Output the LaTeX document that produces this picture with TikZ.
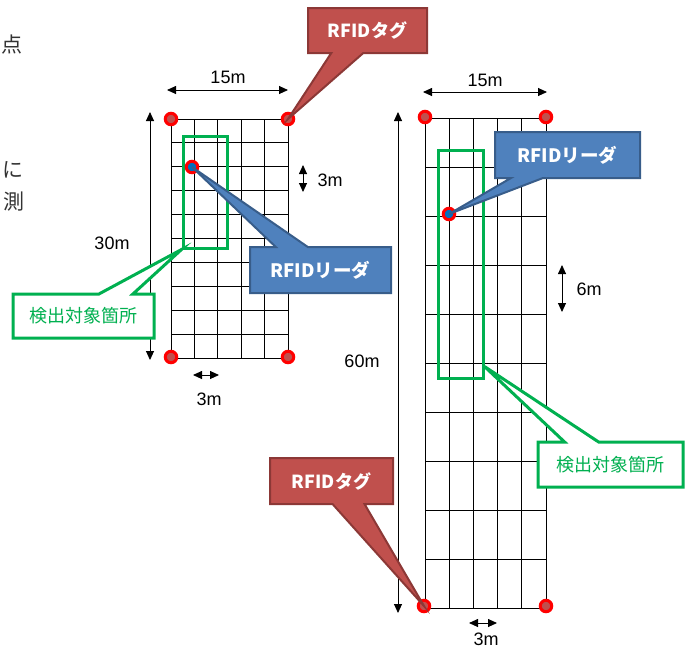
\documentclass[tikz,border=0pt]{standalone}
\usepackage{fontspec}
\setmainfont{Liberation Sans}
\newfontfamily\jpfont{Noto Sans CJK JP}
\usetikzlibrary{arrows.meta,shapes,positioning}
\definecolor{tagred}{HTML}{C0504D}
\definecolor{tagedge}{HTML}{8C3836}
\definecolor{readblue}{HTML}{4F81BD}
\definecolor{readedge}{HTML}{385D8A}
\definecolor{dotblue}{HTML}{0070C0}
\definecolor{areagreen}{HTML}{00B050}
\tikzset{
  gridline/.style={line width=1pt},
  tagdot/.style={circle,draw=red,fill=tagred,line width=3pt,minimum size=11.5pt,inner sep=0pt},
  readerdot/.style={tagdot,fill=dotblue},
  areabox/.style={rectangle,draw=areagreen,line width=3pt,inner sep=0pt},
  dimline/.style={line width=0.9pt,{Triangle[length=9pt,width=8pt]}-{Triangle[length=9pt,width=8pt]}},
  dimlabel/.style={inner sep=0pt,font=\fontsize{18}{18}\selectfont},
  margintext/.style={inner sep=0pt,text=black!80,font=\jpfont\fontsize{21}{21}\selectfont},
  note/.style={rectangle callout,inner sep=0pt,callout pointer width=32pt},
  tagnote/.style={note,draw=tagedge,fill=tagred,line width=2pt,text=white,font=\jpfont\bfseries\fontsize{18}{18}\selectfont},
  readnote/.style={note,draw=readedge,fill=readblue,line width=2pt,text=white,font=\jpfont\bfseries\fontsize{18.5}{18.5}\selectfont},
  areanote/.style={note,draw=areagreen,fill=white,line width=3pt,text=areagreen,font=\jpfont\fontsize{18}{18}\selectfont,callout pointer width=34pt}
}
\begin{document}
\begin{tikzpicture}[x=1pt,y=-1pt]
\useasboundingbox (0,0) rectangle (687,649);

% cut-off body text
\node[margintext] (txt1) at (12,45) {点};
\node[margintext] (txt2) at (13,170) {に};
\node[margintext] (txt3) at (14,202) {測};

% grid 15m x 30m
\foreach \i in {0,...,5} \draw[gridline] (171+\i*23.4,119) -- ++(0,239);
\foreach \j in {0,...,10} \draw[gridline] (171,119+\j*23.9) -- ++(117,0);

% grid 15m x 60m
\foreach \i in {0,...,5} \draw[gridline] (425+\i*24.2,118) -- ++(0,490);
\foreach \j in {0,...,10} \draw[gridline] (425,118+\j*49) -- ++(121,0);

% detection areas
\node[areabox,minimum width=44pt,minimum height=112pt] (areaL) at (205,192) {};
\node[areabox,minimum width=45pt,minimum height=228pt] (areaR) at (460.5,264) {};

% dimensions
\draw[dimline] (167,90) -- (288,90);
\node[dimlabel] (widthL) at (228,77) {15m};
\draw[dimline] (150,112) -- (150,360);
\node[dimlabel] (heightL) at (112,243) {30m};
\draw[dimline] (303,165) -- (303,192);
\node[dimlabel] (rowL) at (330,180) {3m};
\draw[dimline] (193,375) -- (219,375);
\node[dimlabel] (colL) at (209,399) {3m};
\draw[dimline] (423,92) -- (547,92);
\node[dimlabel] (widthR) at (485,80) {15m};
\draw[dimline] (398,112) -- (398,613);
\node[dimlabel] (heightR) at (362,361) {60m};
\draw[dimline] (562,265) -- (562,312);
\node[dimlabel] (rowR) at (589,289) {6m};
\draw[dimline] (469,623) -- (497,623);
\node[dimlabel] (colR) at (486,639) {3m};

% tags and readers
\node[tagdot] (tagL1) at (171,119) {};
\node[tagdot] (tagL2) at (288,119) {};
\node[tagdot] (tagL3) at (171,357) {};
\node[tagdot] (tagL4) at (288,357) {};
\node[tagdot] (tagR1) at (425,117) {};
\node[tagdot] (tagR2) at (546,117) {};
\node[tagdot] (tagR3) at (424,606) {};
\node[tagdot] (tagR4) at (546,606) {};
\node[readerdot] (readerL) at (192,167) {};
\node[readerdot] (readerR) at (449,214) {};

% callouts
\node[tagnote,minimum width=119pt,minimum height=45pt,callout absolute pointer={(tagL2.center)}] (noteTagL) at (367.5,30.5) {RFIDタグ};
\node[tagnote,minimum width=123pt,minimum height=46pt,callout absolute pointer={(tagR3.center)}] (noteTagR) at (331.5,481) {RFIDタグ};
\node[readnote,minimum width=141pt,minimum height=46pt,callout absolute pointer={(readerL.center)}] (noteReadL) at (320.5,270) {RFIDリーダ};
\node[readnote,minimum width=145pt,minimum height=46pt,callout absolute pointer={(readerR.center)}] (noteReadR) at (567.5,155) {RFIDリーダ};
\node[areanote,minimum width=141pt,minimum height=44pt,callout absolute pointer={(areaL.south west)}] (noteAreaL) at (83.5,316) {検出対象箇所};
\node[areanote,minimum width=145pt,minimum height=45pt,callout absolute pointer={([yshift=13pt]areaR.south east)}] (noteAreaR) at (610.5,464.5) {検出対象箇所};
\end{tikzpicture}
\end{document}
